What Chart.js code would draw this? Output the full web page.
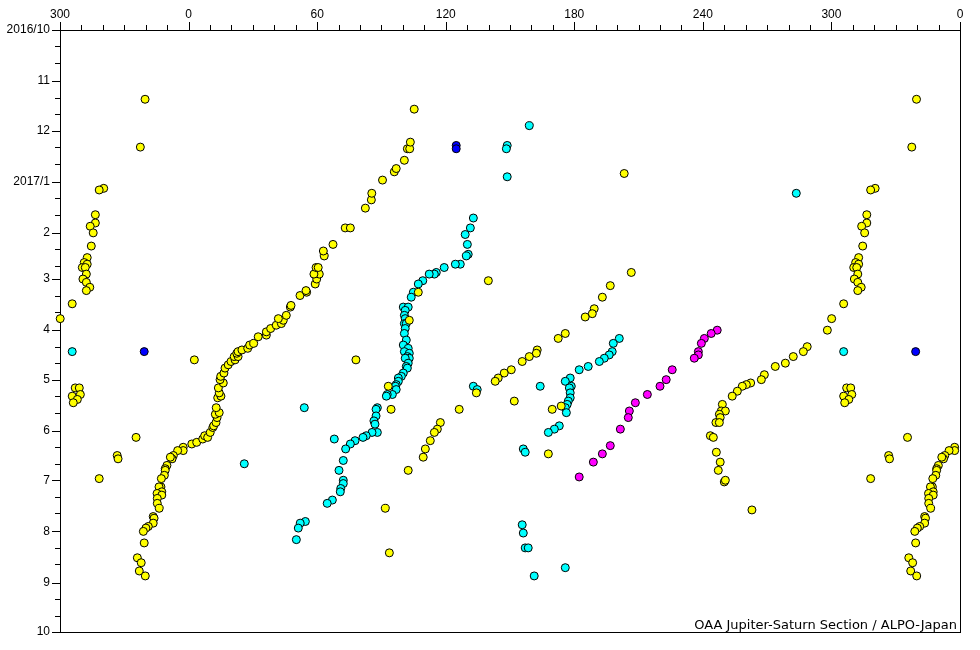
<!DOCTYPE html>
<html>
<head>
<meta charset="utf-8">
<title>Longitude drift chart</title>
<script src="https://cdn.jsdelivr.net/npm/chart.js@4.4.1/dist/chart.umd.min.js"></script>
<style>
  html, body { margin: 0; padding: 0; background: #fff; }
  canvas { display: block; }
</style>
</head>
<body>
<canvas id="driftChart" width="980" height="650"></canvas>
<script>
// each point: [longitude (deg), days since 2016/10/01]
const yellowSpots = [
  [339.7,42],[337.5,71],[320.4,96],[318.3,97],[316.5,112],[316.5,117],[314.1,119],[315.5,123],
  [314.6,131],[312.7,138],[311.3,141],[312.7,142],[310.4,144],[311.8,144],[312.3,148],[310.7,151],
  [312.3,153],[313.9,156],[312.3,158],[305.7,166],[300.1,175],
  [307.1,217],[309.0,217],[305.7,222],[309.5,221],[308.1,224],[306.2,226],
  [335.5,247],[326.7,258],[327.1,260],[318.3,272],
  [357.5,253],[357.5,255],[354.9,255],[352.9,258],[352.3,260],[351.5,259],[349.9,264],[349.1,266],
  [349.1,267],[348.7,270],[347.3,272],[347.1,277],[346.2,277],[347.5,280],[345.3,281],[347.5,282],
  [345.4,284],[345.4,287],[346.3,290],[343.5,295],[343.9,296],[343.5,299],[341.2,301],[340.1,302],
  [338.9,304],[339.3,311],[336.1,320],[337.9,323],[337.0,328],[339.8,331],
  [1.5,251],[3.8,250],[6.6,248],[7.5,246],[8.9,247],[10.1,244],[11.3,241],[11.7,240],[12.8,238],
  [13.3,235],[12.5,233],[14.3,232],[12.9,229],[13.6,223],[15.1,222],[14.3,220],[13.9,217],[16.2,214],
  [14.7,212],[15.0,210],[16.5,208],[17.0,205],[18.5,203],[19.8,201],[21.7,200],[21.3,198],[23.1,198],
  [22.5,196],[23.1,195],[24.9,194],[27.6,193],[28.5,191],[30.4,190],[32.5,186],[36.3,185],[36.3,183],
  [38.3,181],[40.9,179],[43.3,178],[44.2,176],[41.9,175],[45.6,173],[47.5,168],[47.8,167],[52.0,161],
  [55.1,159],[54.8,158],[59.1,154],[59.8,151],[61.0,148],[58.5,148],[59.5,144],[60.5,144],[63.3,137],
  [62.9,134],[67.4,130],[73.1,120],[75.5,120],[82.5,108],[85.3,103],[85.5,99],[90.5,91],[96.0,86],
  [96.9,84],[100.7,79],[102.1,72],[103.2,72],[103.5,68],[105.3,48],
  [2.7,200],[78.1,200],[203.3,87],[139.9,152],[107.2,159],[103.0,176],[93.2,216],[134.3,220],
  [152.0,225],[126.3,230],[94.5,230],[173.9,228],[169.7,230],[117.5,238],[116.1,242],[114.7,244],
  [112.8,249],[110.5,254],[109.5,259],[102.5,267],[91.8,290],[93.7,317],[167.9,257],
  [206.6,147],[196.8,155],[193.1,162],[189.3,169],[188.4,172],[185.1,174],[175.8,184],[172.5,187],
  [162.7,194],[162.3,196],[159.0,198],[155.7,201],[150.6,206],[147.3,208],[144.5,211],[143.1,213],
  [298.1,182],[288.7,192],[286.9,195],[282.2,198],[278.5,202],[273.8,204],[268.7,209],[267.3,212],
  [262.3,214],[260.3,215],[258.4,216],[256.1,219],[253.7,222],[249.1,227],[248.6,231],[250.5,231],
  [247.7,233],[248.1,235],[246.1,238],[247.7,238],[243.5,246],[244.9,247],[246.3,256],[248.1,262],
  [247.2,267],[250.0,274],[250.5,273],[262.9,291]
];

const cyanSpots = [
  [159.0,58],[148.7,70],[148.3,72],[148.7,89],[283.6,99],
  [132.9,114],[131.5,120],[129.1,124],[130.1,130],[130.5,136],[129.6,137],[126.8,142],[124.5,142],
  [119.3,144],[115.6,147],[114.7,148],[112.3,148],[109.3,152],[107.2,154],[104.9,159],[103.9,162],
  [100.2,168],[102.5,168],[101.1,170],[100.7,173],[101.1,175],[100.7,178],[101.6,178],[101.1,181],
  [100.7,184],[101.6,188],[100.2,191],[102.5,193],[100.7,195],[103.0,196],[102.1,198],[103.0,199],
  [101.1,199],[102.5,202],[101.6,204],[102.1,205],[100.2,208],[99.3,210],[97.9,211],[97.9,213],
  [96.9,215],[96.5,216],[96.9,218],[95.1,221],[92.7,221],[92.3,222],[88.1,229],[87.5,230],[87.5,234],
  [86.5,237],[87.0,239],[88.1,244],[85.6,244],[82.9,246],[81.4,247],[77.7,249],[75.5,251],[73.3,254],
  [68.0,248],[72.2,261],[70.2,267],[72.2,273],[72.2,275],[71.0,278],[70.8,280],[67.1,285],[64.7,287],
  [54.5,298],[52.1,299],[51.2,302],[50.3,309],
  [305.7,195],[54.0,229],[26.0,263],[132.9,216],[134.7,218],[164.1,216],
  [201.0,187],[198.2,190],[197.7,195],[196.3,197],[194.0,199],[191.7,201],[186.5,204],[182.3,206],
  [178.1,211],[175.8,213],[178.6,216],[177.7,217],[178.1,220],[178.1,223],[177.2,225],[176.7,227],
  [175.8,229],[176.3,232],[173.0,240],[170.7,242],[167.9,244],[156.2,254],[157.1,256],[155.7,300],
  [156.2,305],[157.1,314],[158.5,314],[161.3,331],[175.8,326]
];

const magentaSpots = [
  [246.7,182],[243.9,184],[240.7,187],[239.3,190],[237.9,195],[237.9,197],[236.0,199],[225.7,206],
  [222.9,212],[220.0,216],[214.1,221],[208.5,226],[205.7,231],[205.2,235],[201.5,242],[196.8,252],
  [193.1,257],[188.9,262],[182.3,271]
];

const blueSpots = [[124.9,70],[124.9,72],[339.3,195]];

// y axis: first day of each month, days since 2016/10/01
const monthStarts = [0, 31, 61, 92, 123, 151, 182, 212, 243, 273, 304, 335, 365];
const monthLabels = ['2016/10', '11', '12', '2017/1', '2', '3', '4', '5', '6', '7', '8', '9', '10'];
const lonTicks = [-60, 0, 60, 120, 180, 240, 300, 360];
const creditText = 'OAA Jupiter-Saturn Section / ALPO-Japan';

// axis runs 300..360..0..360, so longitudes >= 300 are shown twice
function toPoints(list) {
    const pts = [];
    list.forEach(([lon, day]) => {
        pts.push({ x: lon, y: day });
        if (lon >= 300) pts.push({ x: lon - 360, y: day });
    });
    return pts;
}

function spotSet(list, color) {
    return {
        data: toPoints(list),
        backgroundColor: color,
        borderColor: '#000',
        borderWidth: 1,
        pointRadius: 4,
        pointHoverRadius: 4,
        clip: false
    };
}

// frame round the plot, tick marks and the credit line
const framePlugin = {
    id: 'framePlugin',
    beforeDatasetsDraw(chart) {
        const { ctx, chartArea: a, scales: { x, y } } = chart;
        ctx.save();
        ctx.strokeStyle = '#000';
        ctx.lineWidth = 1;
        ctx.strokeRect(a.left + 0.5, a.top + 0.5, a.right - a.left, a.bottom - a.top);

        ctx.beginPath();
        for (let lon = -60; lon <= 360; lon += 10) {
            const px = Math.round(x.getPixelForValue(lon)) + 0.5;
            const len = lon % 60 === 0 ? 8 : 5;
            ctx.moveTo(px, a.top);
            ctx.lineTo(px, a.top - len);
        }
        monthStarts.forEach((m, i) => {
            const py = Math.round(y.getPixelForValue(m)) + 0.5;
            ctx.moveTo(a.left, py);
            ctx.lineTo(a.left - 8, py);
            if (i < monthStarts.length - 1) {
                [10, 20].forEach(d => {
                    const pm = Math.round(y.getPixelForValue(m + d)) + 0.5;
                    ctx.moveTo(a.left, pm);
                    ctx.lineTo(a.left - 5, pm);
                });
            }
        });
        ctx.stroke();
        ctx.restore();
    },
    afterDraw(chart) {
        const { ctx, chartArea: a } = chart;
        ctx.save();
        ctx.fillStyle = '#000';
        ctx.font = '13px "DejaVu Sans"';
        ctx.textAlign = 'right';
        ctx.textBaseline = 'alphabetic';
        ctx.fillText(creditText, a.right - 3, a.bottom - 3);
        ctx.restore();
    }
};

const tickFont = { family: 'Liberation Sans', size: 12 };

new Chart(document.getElementById('driftChart'), {
    type: 'scatter',
    data: {
        datasets: [
            spotSet(yellowSpots, '#ffff00'),
            spotSet(cyanSpots, '#00ffff'),
            spotSet(magentaSpots, '#ff00ff'),
            spotSet(blueSpots, '#0000ff')
        ]
    },
    options: {
        responsive: false,
        animation: false,
        layout: { padding: { left: 0, right: 20, top: 0, bottom: 18 } },
        plugins: {
            legend: { display: false },
            tooltip: { enabled: false }
        },
        scales: {
            x: {
                type: 'linear',
                position: 'top',
                min: -60,
                max: 360,
                afterBuildTicks: s => { s.ticks = lonTicks.map(v => ({ value: v })); },
                afterFit: s => { s.height = 30; },
                grid: { display: false },
                border: { display: false },
                ticks: {
                    font: tickFont,
                    color: '#000',
                    padding: 0,
                    maxRotation: 0,
                    callback: v => ((v % 360) + 360) % 360
                }
            },
            y: {
                type: 'linear',
                reverse: true,
                min: 0,
                max: 365,
                afterBuildTicks: s => { s.ticks = monthStarts.map(v => ({ value: v })); },
                afterFit: s => { s.width = 60; },
                grid: { display: false },
                border: { display: false },
                ticks: {
                    font: tickFont,
                    color: '#000',
                    padding: 2,
                    callback: (v, i) => monthLabels[i]
                }
            }
        }
    },
    plugins: [framePlugin]
});
</script>
</body>
</html>
